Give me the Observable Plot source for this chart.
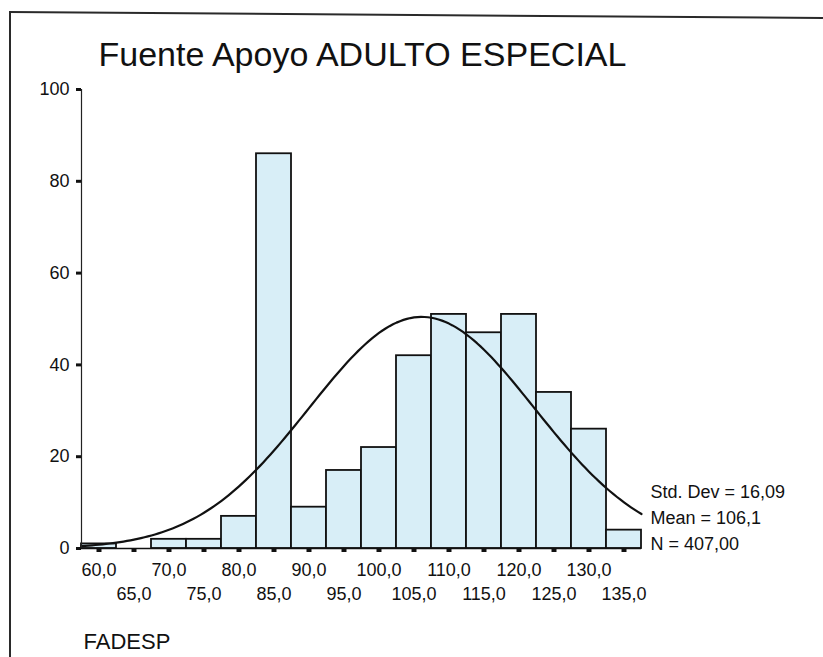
<!DOCTYPE html>
<html><head><meta charset="utf-8">
<script src="https://cdn.jsdelivr.net/npm/d3@7"></script>
<script src="https://cdn.jsdelivr.net/npm/@observablehq/plot@0.6"></script>
<style>
html,body{margin:0;padding:0;background:#fff;}
#wrap{position:relative;width:823px;height:657px;overflow:hidden;background:#fff;}
#wrap svg{position:absolute;left:0;top:0;}
.bl{position:absolute;background:#2a2a2a;}
</style></head><body>
<div id="wrap">
  <div class="bl" style="left:9px;top:11px;width:2px;height:646px;"></div>
  <div class="bl" style="left:9px;top:11px;width:814px;height:2px;transform-origin:0 0;transform:rotate(0.42deg);"></div>
</div>
<script>
// ---- data ----
const binCenters = [60, 65, 70, 75, 80, 85, 90, 95, 100, 105, 110, 115, 120, 125, 130, 135];
const binCounts  = [1, 0, 2, 2, 7, 86, 9, 17, 22, 42, 51, 47, 51, 34, 26, 4];
const yTicks = [0, 20, 40, 60, 80, 100];
const xTicksRow1 = [60, 70, 80, 90, 100, 110, 120, 130];
const xTicksRow2 = [65, 75, 85, 95, 105, 115, 125, 135];
const titleText = "Fuente Apoyo ADULTO ESPECIAL";
const variableName = "FADESP";
const statLabels = ["Std. Dev = 16,09", "Mean = 106,1", "N = 407,00"];
const meanValue = 106.1;
const sdValue = 16.09;
const nValue = 407;
const binWidth = 5;

const bars = binCenters.map((c, i) => ({x1: c - binWidth / 2, x2: c + binWidth / 2, count: binCounts[i]}));
const xMin = binCenters[0] - binWidth / 2, xMax = binCenters[binCenters.length - 1] + binWidth / 2;
// fitted normal curve defined by the printed statistics
const curve = d3.range(xMin, xMax + 0.001, 0.5).map(x => ({
  x,
  y: nValue * binWidth / (sdValue * Math.sqrt(2 * Math.PI)) * Math.exp(-0.5 * ((x - meanValue) / sdValue) ** 2)
}));
const fmt = d => d.toFixed(1).replace(".", ",");
const font = "'Liberation Sans', Arial, sans-serif";

const chart = Plot.plot({
  width: 823,
  height: 657,
  marginLeft: 81,
  marginRight: 182,
  marginTop: 89,
  marginBottom: 109,
  style: {fontFamily: font, background: "transparent", color: "#111"},
  x: {domain: [xMin, xMax]},
  y: {domain: [0, 100]},
  marks: [
    Plot.rectY(bars, {x1: "x1", x2: "x2", y: "count", fill: "#d8eef7", stroke: "#111", strokeWidth: 1.8}),
    Plot.line(curve, {x: "x", y: "y", stroke: "#111", strokeWidth: 2.2}),
    Plot.ruleX([xMin], {y1: 0, y2: 100, stroke: "#222", strokeWidth: 1.2}),
    Plot.ruleY([0], {stroke: "#111", strokeWidth: 1.6}),
    Plot.axisY({ticks: yTicks, tickSize: 5, tickPadding: 7, strokeWidth: 3, fontSize: 18, tickFormat: d => String(d), label: null}),
    Plot.axisX({ticks: binCenters, tickSize: 4, strokeWidth: 5, tickFormat: () => "", label: null}),
    Plot.axisX({ticks: xTicksRow1, tickSize: 0, tickPadding: 15, fontSize: 18, tickFormat: fmt, label: null}),
    Plot.axisX({ticks: xTicksRow2, tickSize: 0, tickPadding: 39, fontSize: 18, tickFormat: fmt, label: null}),
    Plot.text([titleText], {frameAnchor: "top-left", textAnchor: "start", lineAnchor: "middle", dx: 17, dy: -34, fontSize: 34, fill: "#111"}),
    Plot.text([variableName], {frameAnchor: "bottom-left", textAnchor: "start", lineAnchor: "middle", dx: 2, dy: 93, fontSize: 22, fill: "#111"}),
    Plot.text([statLabels.join("\n")], {frameAnchor: "bottom-right", textAnchor: "start", lineAnchor: "middle", lineHeight: 1.45, dx: 9, dy: -33, fontSize: 18, fill: "#111"})
  ]
});
document.getElementById("wrap").prepend(chart);
</script>
</body></html>
